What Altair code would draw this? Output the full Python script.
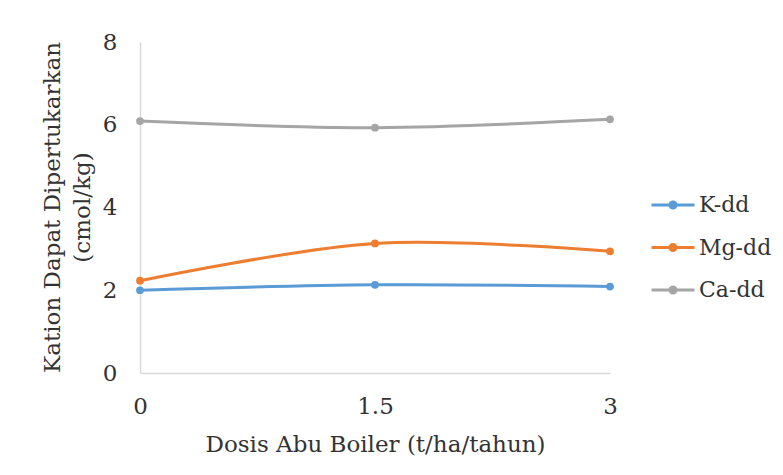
import altair as alt
import pandas as pd

doses = ["0", "1.5", "3"]
series = ["K-dd", "Mg-dd", "Ca-dd"]
k_dd = [2.00, 2.13, 2.09]
mg_dd = [2.23, 3.13, 2.94]
ca_dd = [6.09, 5.93, 6.13]
colors = ["#5B9BD5", "#ED7D31", "#A5A5A5"]
y_ticks = [0, 2, 4, 6, 8]

rows = []
for name, vals in zip(series, [k_dd, mg_dd, ca_dd]):
    for d, v in zip(doses, vals):
        rows.append({"dosis": d, "nilai": v, "seri": name})
df = pd.DataFrame(rows)

FONT = "DejaVu Serif"
TXT = "#333333"

x = alt.X(
    "dosis:O",
    sort=doses,
    scale=alt.Scale(type="point", domain=doses, padding=0),
    axis=alt.Axis(
        title="Dosis Abu Boiler (t/ha/tahun)", labelAngle=0,
        grid=False, ticks=False, domainColor="#D9D9D9", domainWidth=1.5,
        labelFont=FONT, labelFontSize=23, labelColor=TXT, labelPadding=22,
        titleFont=FONT, titleFontSize=23, titleFontWeight="normal", titleColor=TXT,
        titleBaseline="middle", titleY=71, titleX=235,
    ),
)
y = alt.Y(
    "nilai:Q",
    scale=alt.Scale(domain=[0, 8], nice=False),
    axis=alt.Axis(
        values=y_ticks, title=["Kation Dapat Dipertukarkan", "(cmol/kg)"],
        grid=False, ticks=False, domainColor="#D9D9D9", domainWidth=1.5,
        labelFont=FONT, labelFontSize=23, labelColor=TXT, labelPadding=23,
        titleFont=FONT, titleFontSize=23, titleFontWeight="normal", titleColor=TXT,
        titleBaseline="middle", titleAngle=-90, titleLineHeight=30,
        titleX=-88, titleY=165,
    ),
)
color = alt.Color(
    "seri:N",
    scale=alt.Scale(domain=series, range=colors),
    sort=series,
    legend=alt.Legend(
        title=None, orient="none", legendX=510, legendY=140,
        symbolType="M-1,0H1M-0.14,0A0.14,0.14,0,1,0,0.14,0A0.14,0.14,0,1,0,-0.14,0Z",
        symbolSize=1849, symbolStrokeWidth=3, symbolFillColor=None,
        labelFont=FONT, labelFontSize=22, labelColor=TXT, labelOffset=3,
        rowPadding=8.5, padding=0,
    ),
)

base = alt.Chart(df).encode(x=x, y=y, color=color)
lines = base.mark_line(interpolate="cardinal", tension=0, strokeWidth=3)
points = base.mark_point(filled=True, size=60, opacity=1)

chart = (
    alt.layer(lines, points)
    .properties(
        width=470, height=331,
        autosize=alt.AutoSizeParams(type="none"),
        padding={"left": 132, "top": 34, "right": 165, "bottom": 94},
        background="white",
    )
    .configure_view(stroke=None)
)

chart.save("out.html", embed_options={"renderer": "svg", "actions": False})
